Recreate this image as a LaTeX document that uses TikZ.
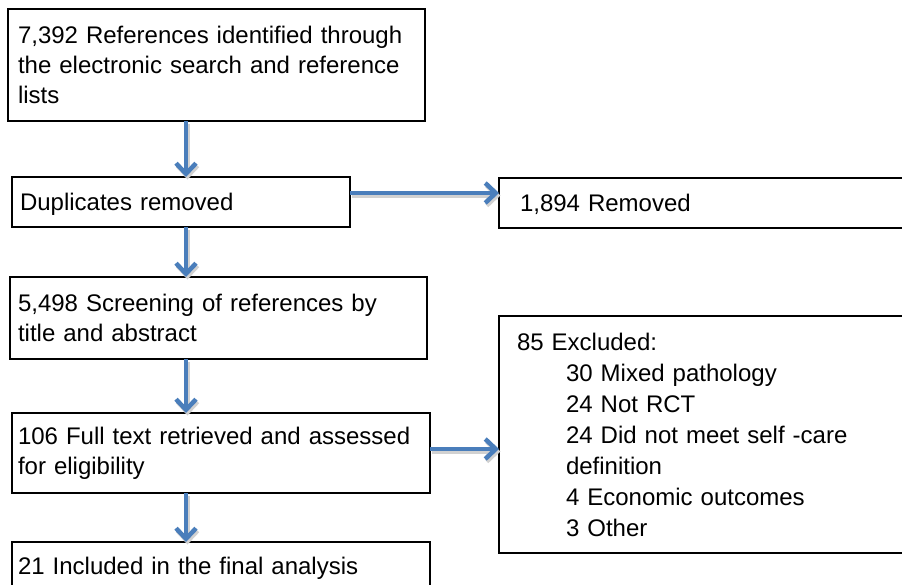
\documentclass[tikz,border=0pt]{standalone}
\usepackage{fontspec}
\setmainfont{Liberation Sans}
\usetikzlibrary{arrows.meta, positioning, calc}

\definecolor{flowblue}{RGB}{74,126,187}
\newcommand{\exclindent}{\hspace*{49pt}}

\begin{document}
\begin{tikzpicture}[x=1pt, y=-1pt,
    box/.style={draw, line width=1.3pt, anchor=north west, align=left, outer sep=0pt,
        inner ysep=0pt, font=\fontsize{24}{30}\selectfont},
    flow/.style={draw=flowblue, line width=4.5pt, -{Straight Barb[length=10.5pt, width=20pt]},
        preaction={draw=black!18, line width=4.5pt, -{Straight Barb[length=10.5pt, width=20pt]},
            transform canvas={shift={(1.5pt,-2.5pt)}}}}
]
    \path[use as bounding box, fill=white] (0,0) rectangle (902,584);

    % guide lines for the connectors
    \coordinate (spine) at (186,0);
    \coordinate (rowdup) at (0,193);
    \coordinate (rowfull) at (0,449);

    % main column
    \node[box, inner xsep=10pt, text width=397pt, minimum height=112pt] (refs) at (8,9)
        {7,392 References identified through\\the electronic search and reference\\lists};
    \node[box, inner xsep=8pt, text width=322pt, minimum height=50pt, text depth=0pt] (dup) at (12,177)
        {Duplicates removed};
    \node[box, inner xsep=8pt, text width=401pt, minimum height=82pt] (screen) at (10,277)
        {5,498 Screening of references by\\title and abstract};
    \node[box, inner xsep=6pt, text width=406pt, minimum height=80pt] (fulltext) at (12,413)
        {106 Full text retrieved and assessed\\for eligibility};
    \node[box, inner xsep=6pt, text width=406pt, minimum height=52pt] (included) at (12,542)
        {21 Included in the final analysis};

    % side boxes
    \node[box, inner xsep=21pt, text width=378pt, minimum height=50pt, text depth=0pt] (removed) at (499,178)
        {1,894 Removed};
    \node[box, inner xsep=18pt, text width=384pt, minimum height=237pt,
        font=\fontsize{24}{31}\selectfont] (excluded) at (499,316)
        {85 Excluded:\\\exclindent 30 Mixed pathology\\\exclindent 24 Not RCT\\
         \exclindent 24 Did not meet self -care\\\exclindent definition\\
         \exclindent 4 Economic outcomes\\\exclindent 3 Other};

    % connectors
    \draw[flow] (refs.south -| spine) -- (dup.north -| spine);
    \draw[flow] (dup.east |- rowdup) -- (removed.west |- rowdup);
    \draw[flow] (dup.south -| spine) -- (screen.north -| spine);
    \draw[flow] (screen.south -| spine) -- (fulltext.north -| spine);
    \draw[flow] (fulltext.east |- rowfull) -- (excluded.west |- rowfull);
    \draw[flow] (fulltext.south -| spine) -- (included.north -| spine);
\end{tikzpicture}
\end{document}
